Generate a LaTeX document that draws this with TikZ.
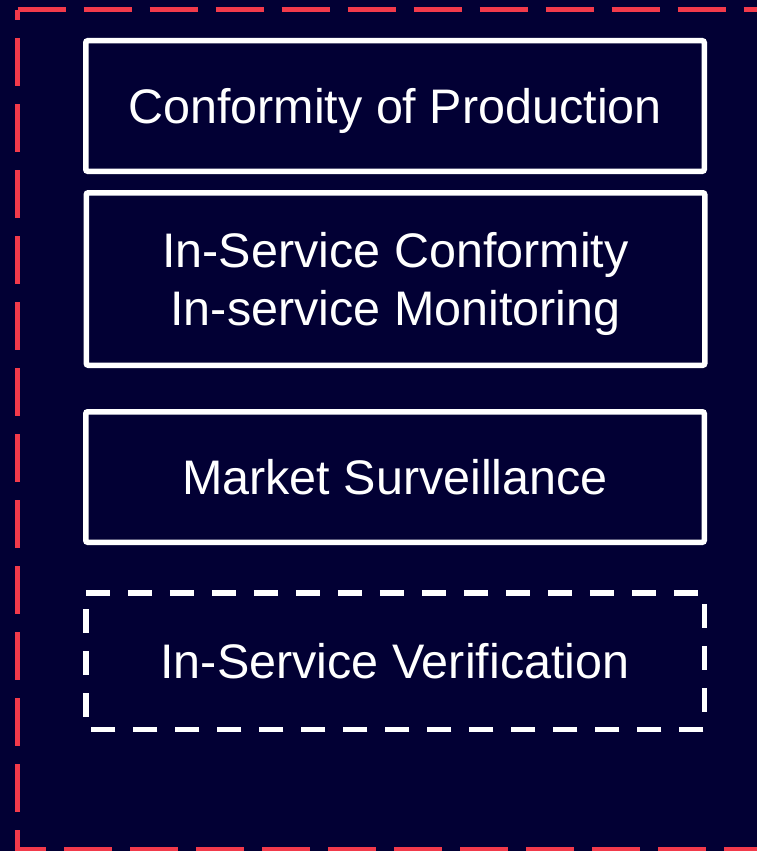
\documentclass[tikz,border=0pt]{standalone}
\usepackage{fontspec}
\setmainfont{Liberation Sans}
\usepackage{tikz}
\usetikzlibrary{arrows,backgrounds,calc,shapes,positioning}
\definecolor{navy}{HTML}{020034}
\definecolor{alertred}{HTML}{F23A4B}

\begin{document}
\begin{tikzpicture}[x=1pt,y=-1pt,
    stage/.style={draw=white,line width=5.5pt,rounded corners=2pt,text=white,align=center,text depth=0pt,minimum width=618.5pt,font=\fontsize{48.5}{58}\selectfont},
    dashstage/.style={stage,draw=none,outer sep=0pt},
    whitedash/.style={draw=white,line width=5.5pt,dash pattern=on 24pt off 18pt},
    reddash/.style={draw=alertred,line width=5pt,dash pattern=on 48pt off 18pt}]
  \useasboundingbox (0,0) rectangle (757,851);
  \clip (0,0) rectangle (757,851);
  \fill[navy] (0,0) rectangle (757,851);
  % outer frame, runs off the page on the right and at the bottom
  \coordinate (tl) at (17.5,10);
  \coordinate (tr) at (780,10);
  \coordinate (bl) at (17.5,849.5);
  \coordinate (br) at (780,849.5);
  \draw[reddash] (tl) -- (tr);
  \draw[reddash,dash phase=38pt] (tl) -- (bl) -- (br);

  \node[stage,minimum height=130.5pt] (cop) at (395,106) {Conformity of Production};
  \node[stage,minimum height=172.5pt] (isc) at (395.5,279) {In-Service Conformity\\In-service Monitoring};
  \node[stage,minimum height=130.5pt] (msv) at (395,477) {Market Surveillance};
%  \node[stage,minimum height=136.5pt] (isv) at (395,661) {In-Service Verification};
  \node[dashstage,minimum height=136.5pt] (isv) at (395,661) {In-Service Verification};
  \draw[whitedash] (isv.north west) -- (isv.north east) -- (isv.south east) -- (isv.south west) -- cycle;
\end{tikzpicture}
\end{document}
